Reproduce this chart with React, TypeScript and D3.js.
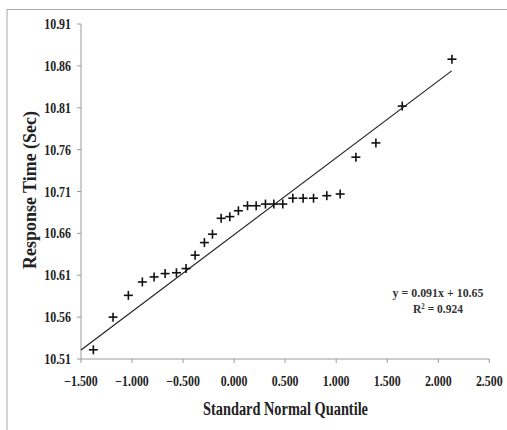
import React from "react";
import * as d3 from "d3";

const quantiles = [
  -1.379, -1.186, -1.036, -0.899, -0.784, -0.676, -0.565, -0.471, -0.382, -0.291,
  -0.212, -0.127, -0.042, 0.042, 0.131, 0.216, 0.307, 0.389, 0.477, 0.575,
  0.676, 0.778, 0.908, 1.039, 1.193, 1.389, 1.647, 2.134,
];
const responseTimes = [
  10.521, 10.56, 10.586, 10.602, 10.608, 10.612, 10.613, 10.618, 10.634, 10.649,
  10.659, 10.678, 10.68, 10.687, 10.693, 10.693, 10.695, 10.695, 10.695, 10.702,
  10.702, 10.702, 10.705, 10.707, 10.751, 10.768, 10.812, 10.868,
];
const xTicks = [-1.5, -1.0, -0.5, 0.0, 0.5, 1.0, 1.5, 2.0, 2.5];
const yTicks = [10.51, 10.56, 10.61, 10.66, 10.71, 10.76, 10.81, 10.86, 10.91];
const trendSlope = 0.0918;
const trendIntercept = 10.6584;
const trendRange = [-1.5, 2.131];
const equationLines = ["y = 0.091x + 10.65", "R² = 0.924"];

const W = 507;
const H = 430;
const FONT = "'Liberation Serif', 'Times New Roman', serif";

function SText(props: {
  x: number;
  y: number;
  anchor: "start" | "middle" | "end";
  size: number;
  sx: number;
  fill?: string;
  children: React.ReactNode;
}) {
  return (
    <g transform={`translate(${props.x},${props.y}) scale(${props.sx},1)`}>
      <text
        x={0}
        y={0}
        textAnchor={props.anchor}
        fontFamily={FONT}
        fontWeight="bold"
        fontSize={props.size}
        fill={props.fill || "#222"}
      >
        {props.children}
      </text>
    </g>
  );
}

export default function App() {
  const x = d3.scaleLinear().domain([-1.5, 2.5]).range([81, 489.3]);
  const y = d3.scaleLinear().domain([10.51, 10.91]).range([359, 24]);
  const axisColor = "#9a9a9a";
  const line = d3
    .line<number>()
    .x((d) => x(d))
    .y((d) => y(trendSlope * d + trendIntercept));

  return (
    <svg
      width={W}
      height={H}
      style={{ position: "absolute", left: 0, top: 0, background: "#fff" }}
    >
      <rect x={0} y={0} width={W} height={H} fill="#fff" />
      <rect x={7} y={9.5} width={W + 20} height={H + 20} fill="none" stroke="#a8a8a8" strokeWidth={1} />
      {/* axes */}
      <line x1={x(-1.5)} x2={x(2.5)} y1={y(10.51)} y2={y(10.51)} stroke={axisColor} strokeWidth={1} />
      <line x1={x(-1.5)} x2={x(-1.5)} y1={y(10.51)} y2={y(10.91)} stroke={axisColor} strokeWidth={1} />
      {xTicks.map((t) => (
        <g key={"x" + t}>
          <line x1={x(t)} x2={x(t)} y1={y(10.51)} y2={y(10.51) + 4} stroke={axisColor} />
          <SText x={x(t)} y={386} anchor="middle" size={14} sx={0.85}>
            {d3.format(".3f")(t)}
          </SText>
        </g>
      ))}
      {yTicks.map((t) => (
        <g key={"y" + t}>
          <line x1={x(-1.5) - 4} x2={x(-1.5)} y1={y(t)} y2={y(t)} stroke={axisColor} />
          <SText x={71} y={y(t) + 5} anchor="end" size={14} sx={0.85}>
            {d3.format(".2f")(t)}
          </SText>
        </g>
      ))}
      {/* trend line */}
      <path d={line(trendRange) || ""} fill="none" stroke="#222" strokeWidth={1.2} />
      {/* points */}
      {quantiles.map((q, i) => {
        const cx = x(q);
        const cy = y(responseTimes[i]);
        return (
          <g key={"p" + i} stroke="#111" strokeWidth={1.6}>
            <line x1={cx - 4.5} x2={cx + 4.5} y1={cy} y2={cy} />
            <line x1={cx} x2={cx} y1={cy - 4.5} y2={cy + 4.5} />
          </g>
        );
      })}
      {/* equation */}
      {equationLines.map((s, i) => (
        <text
          key={"eq" + i}
          x={438}
          y={297 + i * 16}
          textAnchor="middle"
          fontFamily={FONT}
          fontWeight="bold"
          fontSize={13.5}
          fill="#333"
          textLength={i === 0 ? 91 : 50}
          lengthAdjust="spacingAndGlyphs"
        >
          {s}
        </text>
      ))}
      {/* axis titles */}
      <text
        x={285.5}
        y={415}
        textAnchor="middle"
        fontFamily={FONT}
        fontWeight="bold"
        fontSize={18.5}
        fill="#222"
        textLength={165}
        lengthAdjust="spacingAndGlyphs"
      >
        Standard Normal Quantile
      </text>
      <text
        transform={`translate(35.5,190) rotate(-90)`}
        textAnchor="middle"
        fontFamily={FONT}
        fontWeight="bold"
        fontSize={18.5}
        fill="#222"
        textLength={158}
        lengthAdjust="spacingAndGlyphs"
      >
        Response Time (Sec)
      </text>
    </svg>
  );
}
